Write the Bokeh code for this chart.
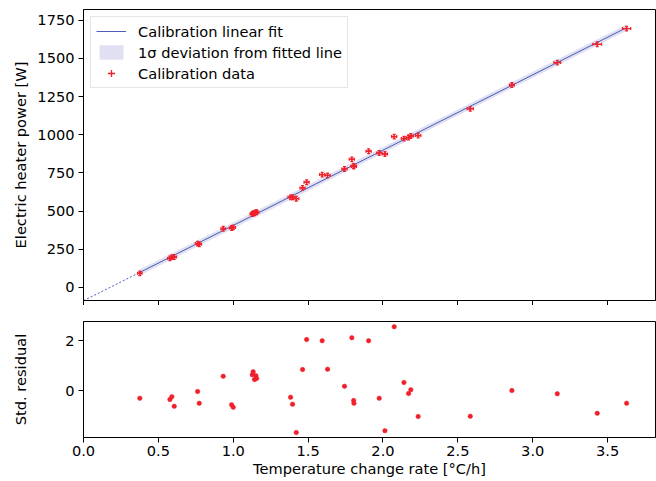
from bokeh.plotting import figure
from bokeh.models import (ColumnDataSource, Whisker, TeeHead, FixedTicker, Legend,
                          LegendItem, Range1d, PrintfTickFormatter, CustomLabelingPolicy)
from bokeh.layouts import column
from bokeh.embed import file_html
from bokeh.resources import INLINE

# ---------------- data ----------------
rate = [0.376, 0.577, 0.590, 0.606, 0.762, 0.773, 0.933, 0.989, 1.000, 1.127,
        1.133, 1.142, 1.151, 1.156, 1.383, 1.396, 1.421, 1.463, 1.490, 1.594,
        1.630, 1.743, 1.792, 1.804, 1.806, 1.904, 1.975, 2.013, 2.075, 2.140,
        2.171, 2.186, 2.235, 2.583, 2.861, 3.164, 3.431, 3.627]
rate_err = [0.015, 0.015, 0.015, 0.015, 0.015, 0.015, 0.015, 0.015, 0.015, 0.015,
            0.015, 0.015, 0.015, 0.015, 0.017, 0.017, 0.017, 0.017, 0.017, 0.017,
            0.017, 0.017, 0.017, 0.017, 0.017, 0.017, 0.017, 0.017, 0.017, 0.017,
            0.017, 0.017, 0.018, 0.020, 0.016, 0.022, 0.029, 0.027]
power = [92, 190, 198, 199, 287, 283, 384, 389, 393, 481,
         486, 485, 492, 492, 590, 591, 581, 652, 689, 739,
         734, 776, 839, 795, 792, 892, 881, 874, 988, 975,
         982, 992, 995, 1170, 1326, 1473, 1593, 1696]
power_err = [15] * 38
resid = [-0.31, -0.36, -0.25, -0.63, -0.04, -0.51, 0.57, -0.57, -0.67, 0.63,
         0.75, 0.44, 0.59, 0.48, -0.27, -0.55, -1.68, 0.84, 2.04, 1.99,
         0.85, 0.17, 2.11, -0.40, -0.51, 1.99, -0.31, -1.61, 2.55, 0.32,
         -0.12, 0.03, -1.04, -1.03, 0.00, -0.13, -0.91, -0.51]

fit_x = [0.376, 3.627]
fit_y = [98.0, 1702.0]
band_lo = [78.0, 1682.0]
band_hi = [118.0, 1722.0]
ext_x = [0.0, 0.376]
ext_y = [-87.5, 98.0]

x_ticks = [0.0, 0.5, 1.0, 1.5, 2.0, 2.5, 3.0, 3.5]
p_ticks = [0, 250, 500, 750, 1000, 1250, 1500, 1750]
r_ticks = [0, 2]

# ---------------- styling ----------------
FONT = "DejaVu Sans"
FS = "14.6px"
RED = "#f0202a"
BLUE = "#3a4cb0"
BAND = "#e0e0f2"


def style(p):
    p.background_fill_color = "white"
    p.border_fill_color = "white"
    p.outline_line_color = "black"
    p.outline_line_width = 1
    p.xgrid.visible = False
    p.ygrid.visible = False
    for ax in (p.xaxis[0], p.yaxis[0]):
        ax.axis_line_color = "black"
        ax.axis_line_width = 1
        ax.major_tick_line_color = "black"
        ax.major_tick_line_width = 1
        ax.major_tick_in = 0
        ax.major_tick_out = 5
        ax.minor_tick_line_color = None
        ax.major_label_text_font = FONT
        ax.major_label_text_font_size = FS
        ax.major_label_text_color = "black"
        ax.axis_label_text_font = FONT
        ax.axis_label_text_font_size = FS
        ax.axis_label_text_font_style = "normal"
        ax.axis_label_text_color = "black"
        ax.major_label_standoff = 4


src = ColumnDataSource(dict(
    x=rate, y=power,
    xl=[a - b for a, b in zip(rate, rate_err)],
    xh=[a + b for a, b in zip(rate, rate_err)],
    yl=[a - b for a, b in zip(power, power_err)],
    yh=[a + b for a, b in zip(power, power_err)],
))

# ---------------- top panel ----------------
p = figure(frame_width=572, frame_height=291, x_range=Range1d(0, 3.82),
           y_range=Range1d(-86, 1821), output_backend="svg", toolbar_location=None,
           min_border_left=83, min_border_right=1, min_border_top=9, min_border_bottom=0)
style(p)
p.xaxis.ticker = FixedTicker(ticks=x_ticks)
p.xaxis.major_label_text_font_size = "0px"
p.xaxis.major_label_standoff = 0
p.xaxis.major_label_policy = CustomLabelingPolicy(code="return []")
p.yaxis.ticker = FixedTicker(ticks=p_ticks)
p.yaxis.axis_label = "Electric heater power [W]"
p.yaxis.axis_label_standoff = 5

r_band = p.varea(x=fit_x, y1=band_lo, y2=band_hi, fill_color=BAND, fill_alpha=1.0)
r_fit = p.line(fit_x, fit_y, line_color=BLUE, line_width=0.9)
p.line(ext_x, ext_y, line_color=BLUE, line_width=0.9, line_dash="2 2")

head = dict(size=3, line_color=RED, line_width=1.3)
wx = Whisker(source=src, base="y", lower="xl", upper="xh", dimension="width",
             line_color=RED, line_width=1.3, level="annotation",
             lower_head=TeeHead(**head), upper_head=TeeHead(**head))
wy = Whisker(source=src, base="x", lower="yl", upper="yh", dimension="height",
             line_color=RED, line_width=1.3, level="annotation",
             lower_head=TeeHead(**head), upper_head=TeeHead(**head))
p.add_layout(wx)
p.add_layout(wy)

r_data = p.scatter(x="x", y="y", source=src, marker="cross", size=4,
                   line_color=RED, line_width=1.3)

legend = Legend(items=[
    LegendItem(label="Calibration linear fit", renderers=[r_fit]),
    LegendItem(label="1\u03c3 deviation from fitted line", renderers=[r_band]),
    LegendItem(label="Calibration data", renderers=[r_data]),
], location="top_left")
legend.border_line_color = "#cccccc"
legend.border_line_width = 1
legend.background_fill_alpha = 0.8
legend.margin = 7
legend.padding = 5
legend.spacing = 3
legend.glyph_width = 30
legend.glyph_height = 18
legend.label_height = 18
legend.label_standoff = 12
legend.label_text_font = FONT
legend.label_text_font_size = FS
legend.label_text_color = "black"
p.add_layout(legend)

# ---------------- bottom panel ----------------
q = figure(frame_width=572, frame_height=116, x_range=p.x_range,
           y_range=Range1d(-1.88, 2.76), output_backend="svg", toolbar_location=None,
           min_border_left=83, min_border_right=1, min_border_top=16, min_border_bottom=0)
style(q)
q.xaxis.ticker = FixedTicker(ticks=x_ticks)
q.xaxis.formatter = PrintfTickFormatter(format="%.1f")
q.xaxis.axis_label = "Temperature change rate [\u00b0C/h]"
q.xaxis.major_label_standoff = 3
q.xaxis.axis_label_standoff = 1
q.yaxis.ticker = FixedTicker(ticks=r_ticks)
q.yaxis.axis_label = "Std. residual"
q.yaxis.axis_label_standoff = 33

q.scatter(rate, resid, size=4.5, fill_color=RED, line_color=RED, line_width=0.5)

layout = column(p, q)
open("out.html", "w").write(file_html(layout, INLINE))
